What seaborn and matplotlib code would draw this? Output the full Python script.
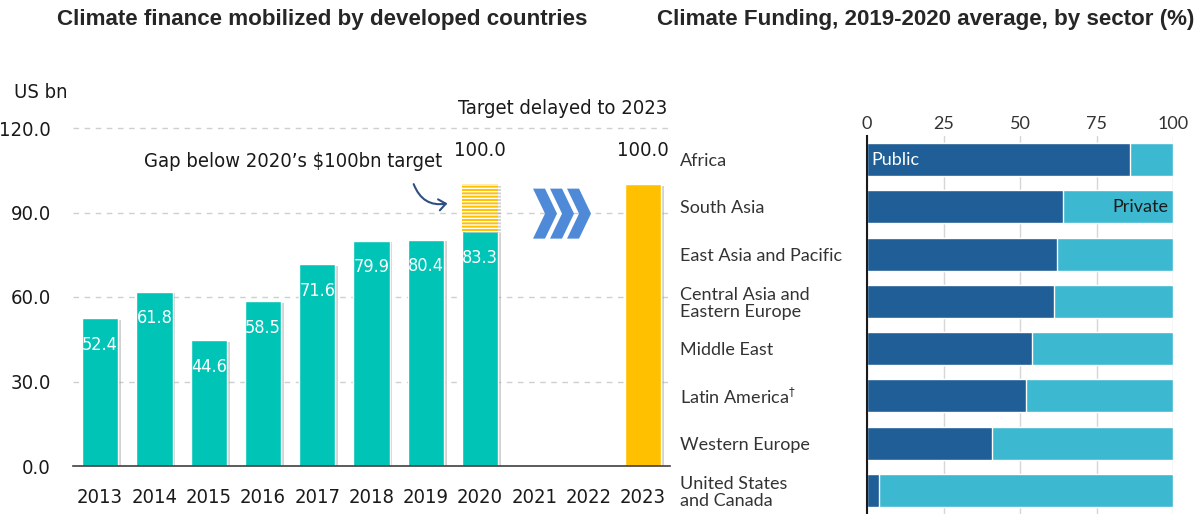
import numpy as np
import pandas as pd
import seaborn as sns
import matplotlib.pyplot as plt
import matplotlib.patheffects as pe
from matplotlib import font_manager
from matplotlib.patches import FancyArrowPatch, Polygon
from matplotlib.ticker import FixedLocator

# Left panel: climate finance mobilized (US bn)
years = ['2013', '2014', '2015', '2016', '2017', '2018', '2019', '2020', '2021', '2022', '2023']
mobilized = [52.4, 61.8, 44.6, 58.5, 71.6, 79.9, 80.4, 83.3]
target_2020 = 100.0
target_2023 = 100.0
y_ticks = [0.0, 30.0, 60.0, 90.0, 120.0]

# Right panel: public share of climate funding by region (%)
regions = ['Africa', 'South Asia', 'East Asia and Pacific',
           'Central Asia and\nEastern Europe', 'Middle East',
           'Latin America$^{\\dagger}$', 'Western Europe',
           'United States\nand Canada']
public_share = [86, 64, 62, 61, 54, 52, 41, 4]
x_ticks = [0, 25, 50, 75, 100]

TEAL = '#00C4B6'
GOLD = '#FFC000'
DARK = '#1F5E96'
LIGHT = '#3DB8D1'

sns.set_theme(style='white')

# pick a condensed face for the left panel if one is installed
names = {f.name for f in font_manager.fontManager.ttflist}
condensed = {(f.name, f.stretch) for f in font_manager.fontManager.ttflist}
stretch = 'normal'
if 'Liberation Sans Narrow' in names:
    narrow, fs, fs_in = ['Liberation Sans Narrow', 'DejaVu Sans'], 16, 15
elif any(n == 'DejaVu Sans' and s in ('condensed', 'semi-condensed') for n, s in condensed):
    narrow, fs, fs_in, stretch = ['DejaVu Sans', 'DejaVu Sans'], 14.5, 13, 'condensed'
else:
    narrow, fs, fs_in = ['Liberation Sans', 'DejaVu Sans'], 13.5, 12.5
plt.rcParams['font.family'] = narrow
plt.rcParams['font.stretch'] = stretch
plt.rcParams['hatch.linewidth'] = 1.0

fig = plt.figure(figsize=(12.04, 5.14), dpi=100)
W, H = 1204, 514

# ---------------- left chart ----------------
ax1 = fig.add_axes([73 / W, 48 / H, (670 - 73) / W, (466 - 128) / H])

bar_vals = mobilized + [np.nan] * (len(years) - len(mobilized) - 1) + [target_2023]
df1 = pd.DataFrame({'year': years, 'value': bar_vals})
pal = {y: (GOLD if y == '2023' else TEAL) for y in years}
sns.barplot(data=df1, x='year', y='value', hue='year', palette=pal, order=years,
            hue_order=years, legend=False, width=0.67, saturation=1,
            errorbar=None, ax=ax1)

i2020 = years.index('2020')
ax1.bar(i2020, target_2020 - mobilized[-1], bottom=mobilized[-1], width=0.67,
        facecolor=GOLD, edgecolor='white', hatch='-----', linewidth=0)

shadow = [pe.SimplePatchShadow(offset=(2, -1), shadow_rgbFace='#808080', alpha=0.35), pe.Normal()]
for p in ax1.patches:
    p.set_path_effects(shadow)

ax1.set_xlim(-0.5, len(years) - 0.5)
ax1.set_ylim(0, 120)
ax1.set_yticks(y_ticks)
ax1.set_yticklabels([f'{v:.1f}' for v in y_ticks])
ax1.set_xlabel('')
ax1.set_ylabel('')
for s in ['top', 'right', 'left']:
    ax1.spines[s].set_visible(False)
ax1.spines['bottom'].set_color('#404040')
ax1.spines['bottom'].set_linewidth(1.2)
for v in y_ticks[1:]:
    ax1.axhline(v, color='#cfcfcf', lw=1, ls=(0, (4, 4)), zorder=0, clip_on=False)
ax1.tick_params(axis='y', length=0, pad=16, labelsize=fs, labelcolor='#1a1a1a')
ax1.tick_params(axis='x', which='major', length=0, pad=16, labelsize=fs, labelcolor='#1a1a1a')
ax1.xaxis.set_minor_locator(FixedLocator(np.arange(-0.5, len(years), 1.0)))
ax1.tick_params(axis='x', which='minor', length=6, width=1.2, color='#404040', direction='out')

# value labels inside bars
for i, v in enumerate(mobilized):
    ax1.text(i, v - 9.4, f'{v:.1f}', ha='center', va='center', color='white', fontsize=fs_in)
ax1.text(i2020, target_2020 + 12, f'{target_2020:.1f}', ha='center', va='center',
         color='#1a1a1a', fontsize=fs)
ax1.text(years.index('2023'), target_2023 + 12, f'{target_2023:.1f}', ha='center',
         va='center', color='#1a1a1a', fontsize=fs)

ax1.text(10.45, 127, 'Target delayed to 2023', ha='right', va='center',
         color='#1a1a1a', fontsize=fs, clip_on=False)
ax1.text(6.3, 108, 'Gap below 2020\u2019s $100bn target', ha='right', va='center',
         color='#1a1a1a', fontsize=fs)

arrow = FancyArrowPatch((5.76, 101), (6.45, 93.4), connectionstyle='arc3,rad=0.45',
                        arrowstyle='->,head_length=5,head_width=4', color='#2F4F80', lw=1.5)
ax1.add_patch(arrow)

# chevrons between 2020 and 2023
px, py = 1 / 54.27, 1 / 2.817
cx0, cy = (533 - 73) * px - 0.5, 89.6
for k in range(3):
    x0 = cx0 + k * 17 * px
    t, d, h = 12 * px, 12 * px, 25 * py
    pts = [(x0, cy + h), (x0 + t, cy + h), (x0 + t + d, cy), (x0 + t, cy - h),
           (x0, cy - h), (x0 + d, cy)]
    ax1.add_patch(Polygon(pts, closed=True, facecolor='#4F8AD8', edgecolor='none'))

fig.text(14 / W, 1 - 92 / H, 'US bn', ha='left', va='center', fontsize=fs, color='#1a1a1a')

# ---------------- right chart ----------------
ax2 = fig.add_axes([867 / W, 0, 306 / W, (514 - 136) / H])
df2 = pd.DataFrame({'region': regions, 'public': public_share,
                    'total': [100] * len(regions)})
sns.barplot(data=df2, x='total', y='region', orient='h', color=LIGHT, saturation=1,
            width=0.7, errorbar=None, ax=ax2)
sns.barplot(data=df2, x='public', y='region', orient='h', color=DARK, saturation=1,
            width=0.7, errorbar=None, ax=ax2)
ax2.set_xlim(0, 100)
ax2.set_ylim(len(regions) - 0.5, -0.5)
ax2.set_xlabel('')
ax2.set_ylabel('')
ax2.xaxis.tick_top()
ax2.set_xticks(x_ticks)
ax2.set_axisbelow(True)
ax2.grid(axis='x', color='#d6d6d6', lw=1)
for s in ['top', 'right', 'bottom']:
    ax2.spines[s].set_visible(False)
ax2.spines['left'].set_color('#1a1a1a')
ax2.spines['left'].set_linewidth(1.5)
ax2.spines['left'].set_zorder(5)
ax2.tick_params(axis='x', length=0, pad=3, labelsize=13, labelcolor='#333333')
ax2.tick_params(axis='y', length=0, pad=187 * 0.72, labelsize=13, labelcolor='#333333')
for lab in ax2.get_xticklabels() + ax2.get_yticklabels():
    lab.set_family(['Lato', 'DejaVu Sans'])
    lab.set_stretch('normal')
for lab in ax2.get_yticklabels():
    lab.set_ha('left')
    lab.set_linespacing(1.05)

ax2.text(1.5, 0, 'Public', ha='left', va='center', color='white', fontsize=13,
         family=['Lato', 'DejaVu Sans'], stretch='normal')
ax2.text(98.5, 1, 'Private', ha='right', va='center', color='#1a1a1a', fontsize=13,
         family=['Lato', 'DejaVu Sans'], stretch='normal')

# titles
fig.text(322 / W, 1 - 20 / H, 'Climate finance mobilized by developed countries',
         ha='center', va='center', fontsize=16.1, fontweight='bold',
         family=['Liberation Sans', 'DejaVu Sans'], stretch='normal')
fig.text(926 / W, 1 - 20 / H, 'Climate Funding, 2019-2020 average, by sector (%)',
         ha='center', va='center', fontsize=16.1, fontweight='bold',
         family=['Liberation Sans', 'DejaVu Sans'], stretch='normal')

fig.savefig('out.png', dpi=100)
